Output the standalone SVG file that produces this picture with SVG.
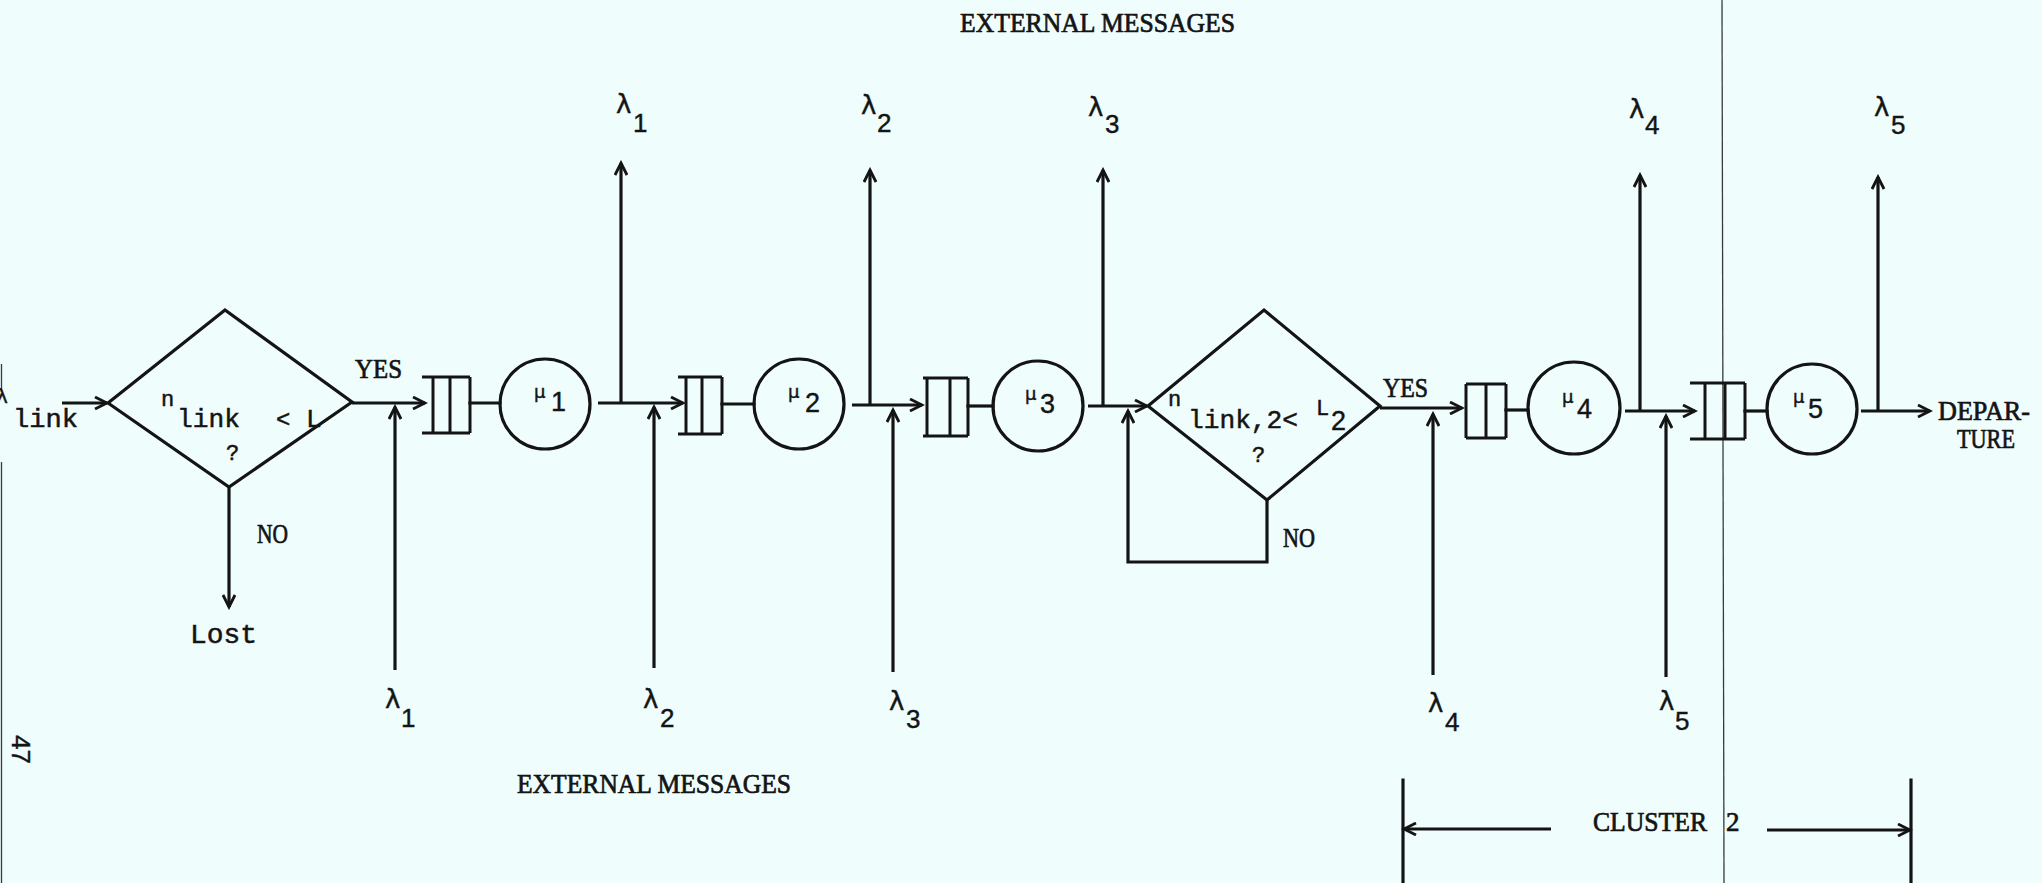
<svg xmlns="http://www.w3.org/2000/svg" width="2042" height="883" viewBox="0 0 2042 883">
<defs>
<marker id="ah" markerUnits="userSpaceOnUse" markerWidth="16" markerHeight="14" refX="13" refY="7" orient="auto">
<path d="M1,1 L13,7 L1,13" fill="none" stroke="#141414" stroke-width="2.8"/>
</marker>
<style>
.ln{fill:none;stroke:#141414;stroke-width:3.2;stroke-linecap:square}
.ar{fill:none;stroke:#141414;stroke-width:3.2;marker-end:url(#ah)}
.shape{fill:none;stroke:#141414;stroke-width:3.2}
.q{fill:none;stroke:#141414;stroke-width:3}
.page{fill:none;stroke:#3a3a3a;stroke-width:1.3}
.cap{font-family:"Liberation Serif",serif;font-size:27px;fill:#141414;stroke:#141414;stroke-width:0.7}
.mono{font-family:"Liberation Mono",monospace;fill:#141414;stroke:#141414;stroke-width:0.5}
.gr{font-family:"DejaVu Sans",sans-serif;fill:#141414;stroke:#141414;stroke-width:0.4}
.dig{font-family:"Liberation Sans",sans-serif;fill:#141414;stroke:#141414;stroke-width:0.4}
</style>
</defs>
<rect width="2042" height="883" fill="#effdfd"/>

<!-- page edges of the scan -->
<g id="page">
<line class="page" x1="1722" y1="0" x2="1724" y2="883"/>
<line class="page" x1="1.5" y1="364" x2="1.5" y2="392"/>
<line class="page" x1="1.5" y1="462" x2="1.5" y2="883"/>
<text class="dig" font-size="26" transform="translate(12,735) rotate(90)">47</text>
</g>

<!-- headings -->
<g id="headings">
<text class="cap" x="960" y="32" textLength="275" lengthAdjust="spacingAndGlyphs">EXTERNAL MESSAGES</text>
<text class="cap" x="517" y="793" textLength="274" lengthAdjust="spacingAndGlyphs">EXTERNAL MESSAGES</text>
</g>

<!-- connectors -->
<g id="connectors">
<path class="ar" d="M62,403 H107"/>
<path class="ar" d="M352,403 H425"/>
<path class="ar" d="M229,487 V607"/>
<path class="ar" d="M395,670 V407"/>
<path class="ln" d="M470,403 H500"/>
<path class="ar" d="M598,403 H683"/>
<path class="ar" d="M621,403 V163"/>
<path class="ar" d="M654,668 V407"/>
<path class="ln" d="M722,404 H754"/>
<path class="ar" d="M852,405 H922"/>
<path class="ar" d="M870,405 V170"/>
<path class="ar" d="M893,672 V410"/>
<path class="ln" d="M968,406 H993"/>
<path class="ar" d="M1088,406 H1147"/>
<path class="ar" d="M1103,406 V170"/>
<path class="ar" d="M1267,500 V562 H1128 V411"/>
<path class="ar" d="M1380,408 H1462"/>
<path class="ar" d="M1433,675 V414"/>
<path class="ln" d="M1506,410 H1528"/>
<path class="ar" d="M1625,411 H1695"/>
<path class="ar" d="M1640,411 V175"/>
<path class="ar" d="M1666,677 V416"/>
<path class="ln" d="M1745,411 H1767"/>
<path class="ar" d="M1861,411 H1930"/>
<path class="ar" d="M1878,411 V177"/>
</g>

<!-- input label -->
<g id="input">
<text class="gr" font-size="20" x="-4" y="403">λ</text>
<text class="mono" font-size="26" x="13" y="427" textLength="65" lengthAdjust="spacingAndGlyphs">link</text>
</g>

<!-- decision 1 -->
<g id="decision1">
<polygon class="shape" points="108,403 225,310 352,402 229,487"/>
<text class="mono" font-size="22" x="161" y="406">n</text>
<text class="mono" font-size="26" x="177" y="427" textLength="63" lengthAdjust="spacingAndGlyphs">link</text>
<text class="mono" font-size="24" x="276" y="427">&lt;</text>
<text class="mono" font-size="26" x="306" y="427">L</text>
<text class="mono" font-size="22" x="226" y="460">?</text>
<text class="cap" x="355" y="378" textLength="47" lengthAdjust="spacingAndGlyphs">YES</text>
<text class="cap" x="257" y="543" textLength="31" lengthAdjust="spacingAndGlyphs">NO</text>
<text class="mono" font-size="27" x="190" y="643" textLength="67" lengthAdjust="spacingAndGlyphs">Lost</text>
</g>

<!-- queue/server 1 -->
<g id="queue1"><path class="q" d="M422,377 H470 M422,433 H470 M433,377 V433 M450,377 V433 M470,377 V433"/></g>
<g id="server1">
<circle class="shape" cx="545" cy="404" r="45"/>
<text class="gr" font-size="18" x="534" y="398">μ</text>
<text class="dig" font-size="27" x="551" y="411">1</text>
</g>

<!-- queue/server 2 -->
<g id="queue2"><path class="q" d="M678,377 H722 M678,434 H722 M686,377 V434 M702,377 V434 M722,377 V434"/></g>
<g id="server2">
<circle class="shape" cx="799" cy="404" r="45"/>
<text class="gr" font-size="18" x="788" y="398">μ</text>
<text class="dig" font-size="27" x="805" y="412">2</text>
</g>

<!-- queue/server 3 -->
<g id="queue3"><path class="q" d="M923,378 H968 M923,436 H968 M927,378 V436 M950,378 V436 M968,378 V436"/></g>
<g id="server3">
<circle class="shape" cx="1038" cy="406" r="45"/>
<text class="gr" font-size="18" x="1025" y="400">μ</text>
<text class="dig" font-size="27" x="1040" y="413">3</text>
</g>

<!-- decision 2 -->
<g id="decision2">
<polygon class="shape" points="1148,406 1264,310 1380,406 1267,500"/>
<text class="mono" font-size="22" x="1168" y="406">n</text>
<text class="mono" font-size="26" x="1188" y="428" textLength="110" lengthAdjust="spacingAndGlyphs">link,2&lt;</text>
<text class="mono" font-size="22" x="1316" y="415">L</text>
<text class="dig" font-size="27" x="1331" y="430">2</text>
<text class="mono" font-size="22" x="1252" y="462">?</text>
<text class="cap" x="1383" y="397" textLength="45" lengthAdjust="spacingAndGlyphs">YES</text>
<text class="cap" x="1283" y="547" textLength="32" lengthAdjust="spacingAndGlyphs">NO</text>
</g>

<!-- queue/server 4 -->
<g id="queue4"><path class="q" d="M1466,384 H1506 M1466,438 H1506 M1466,384 V438 M1486,384 V438 M1506,384 V438"/></g>
<g id="server4">
<circle class="shape" cx="1574" cy="408" r="46"/>
<text class="gr" font-size="18" x="1562" y="403">μ</text>
<text class="dig" font-size="27" x="1577" y="418">4</text>
</g>

<!-- queue/server 5 -->
<g id="queue5"><path class="q" d="M1690,383 H1745 M1690,439 H1745 M1705,383 V439 M1725,383 V439 M1745,383 V439"/></g>
<g id="server5">
<circle class="shape" cx="1812" cy="409" r="45"/>
<text class="gr" font-size="18" x="1793" y="403">μ</text>
<text class="dig" font-size="27" x="1808" y="418">5</text>
</g>

<!-- departure -->
<g id="departure">
<text class="cap" x="1938" y="420" textLength="92" lengthAdjust="spacingAndGlyphs">DEPAR-</text>
<text class="cap" x="1957" y="448" textLength="58" lengthAdjust="spacingAndGlyphs">TURE</text>
</g>

<!-- external departures (top) -->
<g id="out-labels">
<text class="gr" font-size="26" x="616" y="113">λ</text><text class="dig" font-size="26" x="633" y="132">1</text>
<text class="gr" font-size="26" x="861" y="114">λ</text><text class="dig" font-size="26" x="877" y="132">2</text>
<text class="gr" font-size="26" x="1088" y="116">λ</text><text class="dig" font-size="26" x="1105" y="133">3</text>
<text class="gr" font-size="26" x="1629" y="118">λ</text><text class="dig" font-size="26" x="1645" y="134">4</text>
<text class="gr" font-size="26" x="1874" y="116">λ</text><text class="dig" font-size="26" x="1891" y="134">5</text>
</g>

<!-- external arrivals (bottom) -->
<g id="in-labels">
<text class="gr" font-size="26" x="385" y="708">λ</text><text class="dig" font-size="26" x="401" y="727">1</text>
<text class="gr" font-size="26" x="643" y="708">λ</text><text class="dig" font-size="26" x="660" y="727">2</text>
<text class="gr" font-size="26" x="889" y="710">λ</text><text class="dig" font-size="26" x="906" y="728">3</text>
<text class="gr" font-size="26" x="1428" y="712">λ</text><text class="dig" font-size="26" x="1445" y="731">4</text>
<text class="gr" font-size="26" x="1659" y="710">λ</text><text class="dig" font-size="26" x="1675" y="730">5</text>
</g>

<!-- cluster 2 -->
<g id="cluster2">
<path class="ln" d="M1403,780 V883 M1911,780 V883"/>
<path class="ar" d="M1551,829 H1404"/>
<path class="ar" d="M1767,830 H1910"/>
<text class="cap" x="1593" y="831" textLength="114" lengthAdjust="spacingAndGlyphs">CLUSTER</text>
<text class="cap" x="1726" y="831">2</text>
</g>
</svg>
